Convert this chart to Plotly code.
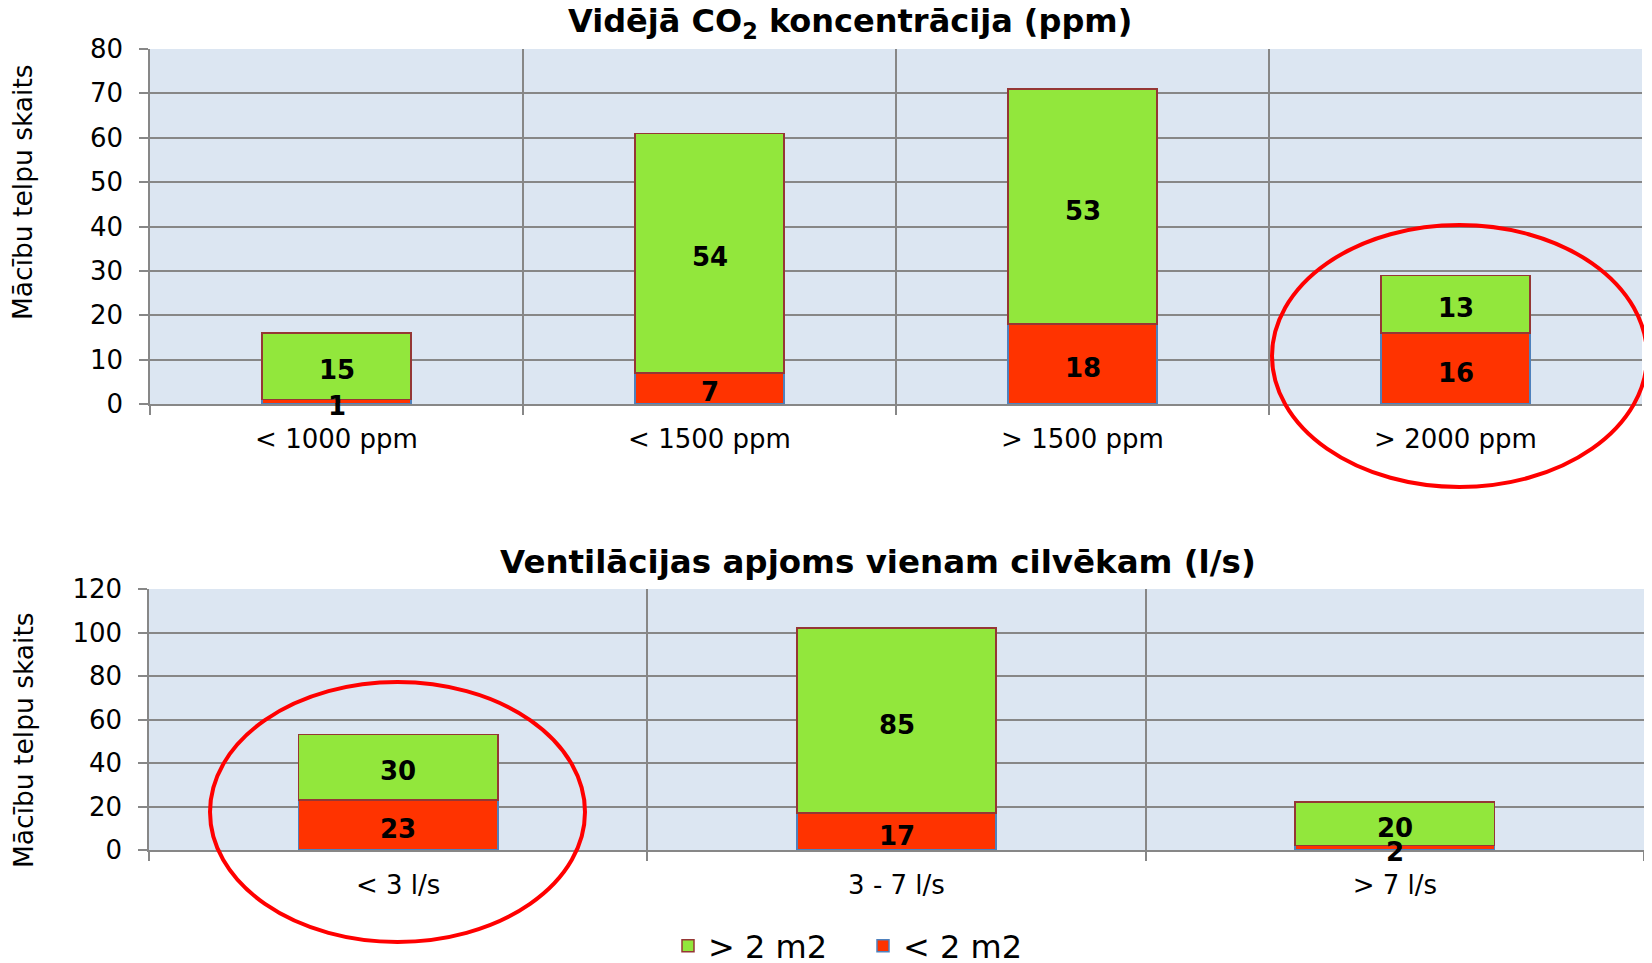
import plotly.graph_objects as go

# --- data -------------------------------------------------------------
co2_categories = ["< 1000 ppm", "< 1500 ppm", "> 1500 ppm", "> 2000 ppm"]
co2_small_area = [1, 7, 18, 16]     # < 2 m2
co2_large_area = [15, 54, 53, 13]   # > 2 m2

vent_categories = ["< 3 l/s", "3 - 7 l/s", "> 7 l/s"]
vent_small_area = [23, 17, 2]
vent_large_area = [30, 85, 20]

# the page body adds an 8px margin, so the figure is made 8px smaller
# and every reference pixel position is shifted by that offset
OFF = 8
W, H = 1652 - OFF, 963 - OFF
FONT = "DejaVu Sans"
GREEN = "#92E73C"
RED = "#FF3300"
GRID = "#878787"
BG = "#DCE6F2"


def px_x(p):
    return (p - OFF) / W


def px_y(p):
    return 1 - (p - OFF) / H


fig = go.Figure()


def add_stack(cats, small, large, xa, ya, show):
    fig.add_trace(go.Bar(
        x=cats, y=small, name="< 2 m2", xaxis=xa, yaxis=ya,
        marker=dict(color=RED, line=dict(color="#4F81BD", width=1.5)),
        legendgroup="small", showlegend=show, hoverinfo="x+y",
    ))
    fig.add_trace(go.Bar(
        x=cats, y=large, name="> 2 m2", xaxis=xa, yaxis=ya,
        marker=dict(color=GREEN, line=dict(color="#953735", width=1.5)),
        legendgroup="large", showlegend=show, hoverinfo="x+y",
    ))
    # value labels, centred on each segment and drawn above all bars
    for c, s, l in zip(cats, small, large):
        for val, mid in ((s, s / 2), (l, s + l / 2)):
            fig.add_annotation(
                x=c, y=mid, xref=xa, yref=ya, text=str(val),
                showarrow=False, yshift=-4,
                xanchor="center", yanchor="middle",
                font=dict(family=FONT, size=26, color="black", weight="bold"),
            )


add_stack(co2_categories, co2_small_area, co2_large_area, "x", "y", True)
add_stack(vent_categories, vent_small_area, vent_large_area, "x2", "y2", False)

xcommon = dict(
    type="category", tickson="boundaries", ticks="outside", ticklen=9,
    tickcolor=GRID, tickwidth=1.5, showgrid=True, gridcolor=GRID, gridwidth=1.5,
    showline=True, linecolor=GRID, linewidth=1.5, mirror=False,
    tickfont=dict(family=FONT, size=26, color="black"),
    ticklabelstandoff=11, zeroline=False, automargin=False,
)
ycommon = dict(
    ticks="outside", ticklen=9, tickcolor=GRID, tickwidth=1.5,
    showgrid=True, gridcolor=GRID, gridwidth=1.5,
    showline=True, linecolor=GRID, linewidth=1.5, zeroline=False,
    tickfont=dict(family=FONT, size=26, color="black"),
    ticklabelstandoff=11, automargin=False,
)

fig.update_layout(
    width=W, height=H,
    margin=dict(l=0, r=0, t=0, b=0, autoexpand=False),
    paper_bgcolor="white", plot_bgcolor=BG,
    barmode="stack", bargap=0.6,
    font=dict(family=FONT, color="black"),
    xaxis=dict(domain=[px_x(150), px_x(1642)], anchor="y", **xcommon),
    yaxis=dict(domain=[px_y(404), px_y(49)], anchor="x", range=[0, 80],
               dtick=10, **ycommon),
    xaxis2=dict(domain=[px_x(149), px_x(1644)], anchor="y2", **xcommon),
    yaxis2=dict(domain=[px_y(850), px_y(589)], anchor="x2", range=[0, 120],
                dtick=20, **ycommon),
    legend=dict(orientation="h", x=px_x(668), xanchor="left",
                y=px_y(946), yanchor="middle", traceorder="reversed",
                entrywidth=150, entrywidthmode="pixels",
                font=dict(family=FONT, size=32, color="black"),
                bgcolor="rgba(0,0,0,0)"),
)

# chart titles and axis titles
fig.add_annotation(text="<b>Vidējā CO<sub>2</sub> koncentrācija (ppm)</b>",
                   xref="paper", yref="paper", x=px_x(850), y=px_y(23),
                   xanchor="center", yanchor="middle",
                   showarrow=False, font=dict(family=FONT, size=32))
fig.add_annotation(text="<b>Ventilācijas apjoms vienam cilvēkam (l/s)</b>",
                   xref="paper", yref="paper", x=px_x(878), y=px_y(562),
                   xanchor="center", yanchor="middle",
                   showarrow=False, font=dict(family=FONT, size=32.5))
for yc in (192, 740):
    fig.add_annotation(text="Mācību telpu skaits", textangle=-90,
                       xref="paper", yref="paper", x=px_x(23), y=px_y(yc),
                       xanchor="center", yanchor="middle",
                       showarrow=False, font=dict(family=FONT, size=26.5))

# red highlight ellipses
fig.add_shape(type="circle", xref="paper", yref="paper",
              x0=px_x(1272), x1=px_x(1647), y0=px_y(487), y1=px_y(225),
              line=dict(color="#FF0000", width=4))
fig.add_shape(type="circle", xref="paper", yref="paper",
              x0=px_x(210), x1=px_x(585), y0=px_y(942), y1=px_y(682),
              line=dict(color="#FF0000", width=4))

fig.write_html("out.html")
